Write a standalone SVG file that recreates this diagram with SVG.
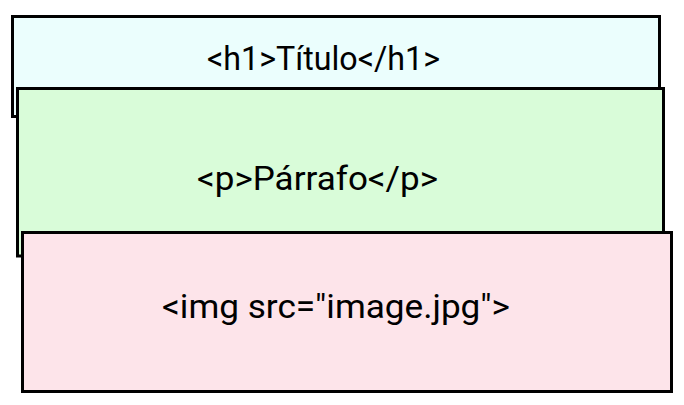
<svg xmlns="http://www.w3.org/2000/svg" width="684" height="405" viewBox="0 0 684 405">
<style>
.box{stroke:#000;stroke-width:3}
.lbl{font-family:Roboto,"Liberation Sans",sans-serif;font-size:33px;fill:#000}
</style>
<rect width="684" height="405" fill="#fff"/>
<g id="node-h1">
<rect class="box" x="12.5" y="16.5" width="647" height="100" fill="#EBFEFD"/>
<text class="lbl" x="207" y="70" textLength="233" lengthAdjust="spacingAndGlyphs">&lt;h1&gt;Título&lt;/h1&gt;</text>
</g>
<g id="node-p">
<rect class="box" x="17.5" y="88.5" width="646" height="167.5" fill="#D9FCD9"/>
<text class="lbl" x="197" y="190" textLength="241" lengthAdjust="spacingAndGlyphs">&lt;p&gt;Párrafo&lt;/p&gt;</text>
</g>
<g id="node-img">
<rect class="box" x="22.5" y="232.5" width="649" height="159" fill="#FDE4EA"/>
<text class="lbl" x="162" y="318" textLength="348" lengthAdjust="spacingAndGlyphs">&lt;img src="image.jpg"&gt;</text>
</g>
<g id="connectors"></g>
</svg>
